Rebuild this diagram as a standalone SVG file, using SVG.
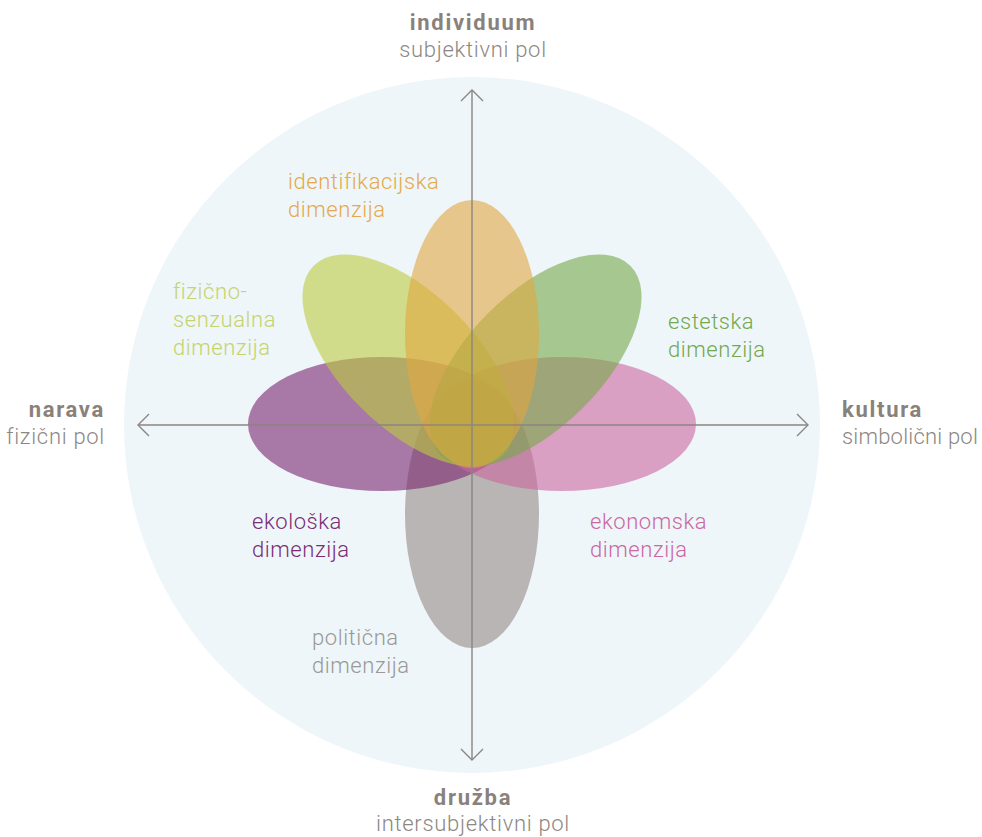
<svg xmlns="http://www.w3.org/2000/svg" width="982" height="837" viewBox="0 0 982 837">
<defs>
<style>
.lbl{font-family:Roboto,"Liberation Sans",sans-serif;font-weight:300;font-size:22px;letter-spacing:0.55px}
.ax{font-family:Roboto,"Liberation Sans",sans-serif;font-size:22px;fill:#8d8782}
.axb{font-weight:700;fill:#8a817b;letter-spacing:1.7px}
.axl{font-weight:300;letter-spacing:0.7px}
.petal{fill-opacity:0.6}
.axis{stroke:#8c8581;stroke-width:1.4;fill:none}
</style>
<marker id="arr" viewBox="0 0 24 24" refX="13" refY="12" markerWidth="24" markerHeight="24" markerUnits="userSpaceOnUse" orient="auto-start-reverse">
<path d="M2,1 L13,12 L2,23" fill="none" stroke="#8c8581" stroke-width="1.4"/>
</marker>
</defs>
<rect width="982" height="837" fill="#ffffff"/>
<circle id="background" cx="472" cy="425" r="348" fill="#eef6fa"/>
<g id="ellipses">
<ellipse id="politicna" class="petal" cx="472" cy="514" rx="67" ry="134" fill="#948b85"/>
<ellipse id="ekoloska" class="petal" cx="382" cy="424" rx="134" ry="67" fill="#79276e"/>
<ellipse id="ekonomska" class="petal" cx="562" cy="424" rx="134" ry="67" fill="#cb689e"/>
<ellipse id="fizicno" class="petal" cx="0" cy="0" rx="67" ry="134" fill="#bccb3f" transform="translate(408.4 360.4) rotate(-45)"/>
<ellipse id="estetska" class="petal" cx="0" cy="0" rx="67" ry="134" fill="#76a848" transform="translate(535.6 360.4) rotate(45)"/>
<ellipse id="identifikacijska" class="petal" cx="472" cy="334" rx="67" ry="134" fill="#e1a63f"/>
</g>
<g id="connectors">
<line class="axis" x1="472" y1="760" x2="472" y2="90" marker-start="url(#arr)" marker-end="url(#arr)"/>
<line class="axis" x1="138" y1="425" x2="808" y2="425" marker-start="url(#arr)" marker-end="url(#arr)"/>
</g>
<g id="pole-top">
<text class="ax axb" x="473" y="30" text-anchor="middle">individuum</text>
<text class="ax axl" x="473" y="57" text-anchor="middle">subjektivni pol</text>
</g>
<g id="pole-left">
<text class="ax axb" x="105" y="417" text-anchor="end">narava</text>
<text class="ax axl" x="105" y="444" text-anchor="end">fizični pol</text>
</g>
<g id="pole-right">
<text class="ax axb" x="842" y="417">kultura</text>
<text class="ax axl" x="842" y="444" style="letter-spacing:0.2px">simbolični pol</text>
</g>
<g id="pole-bottom">
<text class="ax axb" x="473" y="805" text-anchor="middle">družba</text>
<text class="ax axl" x="473" y="831" text-anchor="middle">intersubjektivni pol</text>
</g>
<g id="label-identifikacijska" class="lbl" fill="#e5a94c">
<text x="288" y="189">identifikacijska</text>
<text x="288" y="217">dimenzija</text>
</g>
<g id="label-fizicno" class="lbl" fill="#c6d36c">
<text x="173" y="299">fizično-</text>
<text x="173" y="327">senzualna</text>
<text x="173" y="355">dimenzija</text>
</g>
<g id="label-estetska" class="lbl" fill="#73a84e">
<text x="668" y="329">estetska</text>
<text x="668" y="357">dimenzija</text>
</g>
<g id="label-ekoloska" class="lbl" fill="#7b2c72">
<text x="252" y="529">ekološka</text>
<text x="252" y="557">dimenzija</text>
</g>
<g id="label-ekonomska" class="lbl" fill="#cc67a2">
<text x="590" y="529">ekonomska</text>
<text x="590" y="557">dimenzija</text>
</g>
<g id="label-politicna" class="lbl" fill="#9a9896">
<text x="312" y="645">politična</text>
<text x="312" y="673">dimenzija</text>
</g>
</svg>
